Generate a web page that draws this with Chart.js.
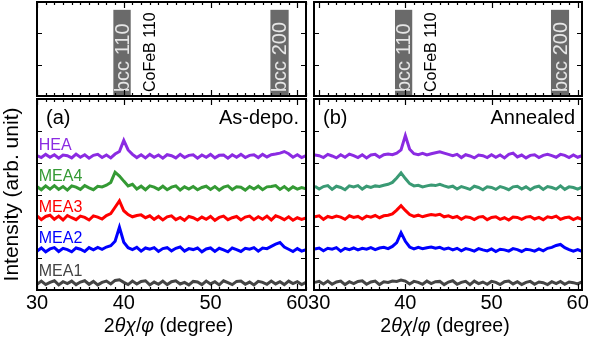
<!DOCTYPE html>
<html>
<head>
<meta charset="utf-8">
<script src="https://cdn.jsdelivr.net/npm/chart.js@4.4.0/dist/chart.umd.min.js"></script>
<style>
  html, body { margin: 0; padding: 0; background: #fff; }
  #wrap { position: relative; width: 596px; height: 340px; }
  #wrap canvas { position: absolute; left: 0; top: 0; }
</style>
</head>
<body>
<div id="wrap">
  <canvas id="topA" width="596" height="340"></canvas>
  <canvas id="topB" width="596" height="340"></canvas>
  <canvas id="mainA" width="596" height="340"></canvas>
  <canvas id="mainB" width="596" height="340"></canvas>
</div>
<script>
// ---- data (2theta in degree, intensity in arb. unit above each baseline) ----
const TWO_THETA = [29.5, 30, 30.5, 31, 31.5, 32, 32.5, 33, 33.5, 34,
  34.5, 35, 35.5, 36, 36.5, 37, 37.5, 38, 38.5, 39,
  39.5, 40, 40.5, 41, 41.5, 42, 42.5, 43, 43.5, 44,
  44.5, 45, 45.5, 46, 46.5, 47, 47.5, 48, 48.5, 49,
  49.5, 50, 50.5, 51, 51.5, 52, 52.5, 53, 53.5, 54,
  54.5, 55, 55.5, 56, 56.5, 57, 57.5, 58, 58.5, 59,
  59.5, 60, 60.5, 61];

const SAMPLES = ['MEA1', 'MEA2', 'MEA3', 'MEA4', 'HEA'];
const OFFSETS = [0.22, 1.25, 2.25, 3.2, 4.2];

// as-deposited
const MEA1_ASDEPO = [0.03, -0.04, 0.06, -0.05, 0.02, 0.07, -0.06, 0.04, -0.02, 0.06,
  -0.05, 0.03, 0.07, -0.04, 0.05, -0.06, 0.02, 0.06, -0.03, 0.08,
  0.1, 0.02, -0.05, 0.06, -0.03, 0.05, 0.07, -0.06, 0.03, -0.04,
  0.06, -0.05, 0.04, 0.07, -0.03, 0.02, -0.06, 0.05, 0.03, -0.05,
  0.06, -0.03, 0.04, -0.06, 0.07, 0.01, -0.05, 0.05, 0.06, -0.04,
  0.03, -0.06, 0.05, 0.02, -0.04, 0.06, -0.03, 0.04, -0.05, 0.06,
  -0.02, 0.04, -0.05, 0.02];
const MEA2_ASDEPO = [0.05, -0.03, 0.07, -0.05, 0.04, 0.08, -0.04, 0.06, 0.02, -0.05,
  0.07, 0.03, -0.04, 0.08, 0.01, 0.09, 0.03, 0.1, 0.14, 0.28,
  0.72, 0.25, 0.08, 0.02, 0.09, -0.03, 0.07, 0.03, 0.08, -0.04,
  0.05, 0.08, -0.02, 0.06, 0.1, -0.03, 0.05, 0.02, 0.07, -0.05,
  0.04, 0.07, -0.04, 0.06, 0.01, -0.05, 0.07, 0.02, -0.04, 0.06,
  0.03, 0.08, -0.03, 0.07, 0.05, 0.12, 0.19, 0.24, 0.1, 0.03,
  -0.04, 0.05, -0.03, 0.02];
const MEA3_ASDEPO = [0.04, 0.08, -0.04, 0.06, 0.1, -0.03, 0.07, -0.05, 0.09, 0.02,
  -0.04, 0.07, 0.03, -0.05, 0.08, 0.04, -0.02, 0.09, 0.15, 0.35,
  0.55, 0.24, 0.12, 0.05, 0.09, 0.11, 0.02, 0.08, -0.03, 0.06,
  -0.05, 0.05, 0.08, -0.04, 0.03, -0.06, 0.06, 0.02, -0.05, 0.04,
  -0.03, 0.06, -0.06, 0.03, 0.07, -0.04, 0.02, 0.06, -0.05, 0.04,
  0.07, -0.04, 0.05, -0.03, 0.07, -0.05, 0.08, 0.03, -0.04, 0.05,
  -0.06, 0.02, -0.03, 0.01];
const MEA4_ASDEPO = [0.02, 0.05, -0.05, 0.07, -0.03, 0.08, -0.04, 0.05, -0.06, 0.07,
  0.03, -0.04, 0.08, 0.01, -0.05, 0.06, 0.04, 0.09, 0.18, 0.5,
  0.38, 0.22, 0.07, 0.12, -0.03, 0.06, -0.05, 0.07, 0.03, -0.04,
  0.06, -0.05, 0.03, 0.07, -0.06, 0.04, -0.03, 0.05, -0.05, 0.02,
  0.06, -0.04, 0.05, -0.06, 0.03, 0.07, -0.05, 0.04, 0.03, -0.06,
  0.05, -0.03, 0.06, -0.05, 0.04, 0.05, 0.08, -0.04, 0.05, -0.06,
  0.04, -0.03, 0.02, -0.02];
const HEA_ASDEPO = [0.04, 0.02, -0.04, 0.06, -0.03, 0.05, -0.06, 0.04, 0.02, -0.05,
  0.07, -0.03, 0.05, -0.06, 0.03, 0.06, -0.04, 0.04, -0.05, 0.07,
  0.15, 0.5, 0.2, 0.06, -0.04, 0.05, -0.05, 0.06, -0.03, 0.04,
  -0.06, 0.05, 0.02, -0.05, 0.06, -0.04, 0.03, 0.05, -0.06, 0.04,
  -0.03, 0.06, -0.05, 0.03, 0.04, -0.06, 0.05, -0.03, 0.06, -0.04,
  0.03, 0.05, -0.04, 0.06, -0.02, 0.05, 0.07, 0.1, 0.15, 0.08,
  -0.03, 0.05, -0.04, 0.02];

// annealed
const MEA1_ANNEALED = [0.02, 0.05, -0.03, 0.06, -0.04, 0.03, 0.06, -0.05, 0.04, -0.02,
  0.05, 0.07, -0.04, 0.03, 0.06, -0.05, 0.04, 0.02, 0.06, 0.05,
  0.09, 0.06, -0.03, 0.05, 0.02, -0.04, 0.06, -0.02, 0.04, 0.05,
  -0.05, 0.03, 0.07, -0.04, 0.02, 0.05, -0.05, 0.06, -0.02, 0.03,
  -0.04, 0.05, 0.02, -0.05, 0.04, 0.06, -0.03, 0.04, -0.05, 0.02,
  0.05, -0.04, 0.03, 0.01, -0.05, 0.04, -0.02, 0.05, -0.04, 0.03,
  0.01, -0.03, 0.04, -0.02];
const MEA2_ANNEALED = [0.04, 0.07, -0.02, 0.06, 0.03, 0.08, -0.03, 0.06, 0.02, 0.07,
  0.01, 0.06, 0.03, 0.08, 0.02, 0.07, 0.09, 0.05, 0.12, 0.24,
  0.55, 0.28, 0.1, 0.04, 0.09, 0.05, 0.08, 0.1, 0.06, 0.09,
  0.03, 0.07, 0.01, 0.06, -0.02, 0.05, 0.02, -0.03, 0.05, 0.01,
  -0.02, 0.04, -0.04, 0.03, 0.01, -0.03, 0.05, 0.02, -0.04, 0.03,
  0.01, -0.03, 0.04, -0.02, 0.06, 0.09, 0.15, 0.18, 0.08, 0.02,
  -0.03, 0.02, -0.04, 0.0];
const MEA3_ANNEALED = [0.05, 0.08, -0.03, 0.06, 0.02, 0.07, 0.04, -0.03, 0.08, 0.03,
  0.06, -0.02, 0.07, 0.04, 0.09, 0.02, 0.08, 0.1, 0.14, 0.26,
  0.4, 0.25, 0.12, 0.06, 0.1, 0.05, 0.09, 0.12, 0.1, 0.13,
  0.05, 0.08, 0.02, 0.06, -0.03, 0.05, 0.03, -0.04, 0.04, 0.06,
  -0.04, 0.03, 0.05, -0.03, 0.02, -0.05, 0.04, 0.03, -0.03, 0.04,
  0.06, -0.02, 0.03, -0.04, 0.05, 0.02, 0.07, -0.03, 0.02, 0.04,
  -0.04, 0.02, -0.03, 0.01];
const MEA4_ANNEALED = [0.06, -0.03, 0.05, 0.08, -0.04, 0.06, 0.02, -0.05, 0.07, 0.04,
  0.08, -0.03, 0.06, 0.02, 0.07, 0.05, 0.09, 0.12, 0.18, 0.32,
  0.48, 0.3, 0.14, 0.07, 0.09, 0.04, 0.07, 0.1, 0.08, 0.12,
  0.07, 0.03, 0.06, -0.03, 0.05, 0.01, -0.04, 0.06, 0.02, -0.05,
  0.04, 0.02, -0.04, 0.05, 0.01, -0.05, 0.04, 0.06, -0.03, 0.04,
  -0.05, 0.03, 0.06, -0.04, 0.05, 0.02, -0.03, 0.07, -0.04, 0.04,
  0.02, -0.03, 0.03, -0.02];
const HEA_ANNEALED = [0.04, 0.02, -0.04, 0.06, 0.01, -0.05, 0.05, -0.03, 0.07, 0.02,
  -0.04, 0.05, -0.05, 0.04, 0.06, -0.03, 0.05, 0.07, 0.05, 0.1,
  0.2, 0.65, 0.22, 0.08, 0.05, 0.09, 0.04, 0.08, 0.11, 0.14,
  0.1, 0.06, 0.02, 0.06, -0.04, 0.05, 0.01, -0.05, 0.04, 0.02,
  -0.04, 0.05, -0.03, 0.04, -0.05, 0.06, 0.1, -0.02, 0.04, -0.05,
  0.03, 0.05, -0.04, 0.03, 0.06, 0.02, -0.03, 0.06, 0.03, -0.04,
  0.04, -0.03, 0.02, -0.02];

const ASDEPO = [MEA1_ASDEPO, MEA2_ASDEPO, MEA3_ASDEPO, MEA4_ASDEPO, HEA_ASDEPO];
const ANNEALED = [MEA1_ANNEALED, MEA2_ANNEALED, MEA3_ANNEALED, MEA4_ANNEALED, HEA_ANNEALED];

// reference peak positions (top panels)
const REF_LABELS = ['bcc 110', 'bcc 200'];
const REF_FROM = [38.8, 56.9];
const REF_TO = [40.8, 59.0];
const COFEB_LABEL = 'CoFeB 110';
const COFEB_POS = 43.1;

const X_RANGE_A = [30, 61];
const X_RANGE_B = [29.4, 60.5];
const X_TICKS = [30, 40, 50, 60];
const Y_TICKS_MAIN = [1, 2, 3, 4, 5];
const Y_TICKS_TOP = [1, 2];

const COLORS_A = ['#444444', '#0000ff', '#ff0000', '#349a34', '#8b2be2'];
const COLORS_B = ['#444444', '#0000ff', '#ff0000', '#3a9a74', '#8b2be2'];

const FONT = '"Liberation Sans", Arial, Helvetica, sans-serif';

// ---- plugins ----
function frameTicks(yTicks) {
  return {
    id: 'frameTicks',
    afterDatasetsDraw(chart) {
      const { ctx, chartArea: a, scales: { x, y } } = chart;
      ctx.save();
      ctx.strokeStyle = '#000';
      ctx.lineWidth = 1.2;
      ctx.beginPath();
      for (let v = Math.ceil(x.min); v <= Math.floor(x.max); v += 1) {
        const px = Math.round(x.getPixelForValue(v)) + 0.5;
        const len = X_TICKS.includes(v) ? 6 : 3;
        ctx.moveTo(px, a.top); ctx.lineTo(px, a.top + len);
        ctx.moveTo(px, a.bottom); ctx.lineTo(px, a.bottom - len);
      }
      yTicks.forEach(v => {
        const py = Math.round(y.getPixelForValue(v)) + 0.5;
        ctx.moveTo(a.left, py); ctx.lineTo(a.left + 5, py);
        ctx.moveTo(a.right, py); ctx.lineTo(a.right - 5, py);
      });
      ctx.stroke();
      ctx.lineWidth = 2;
      ctx.strokeRect(a.left, a.top, a.right - a.left, a.bottom - a.top);
      ctx.restore();
    }
  };
}

const refBands = {
  id: 'refBands',
  beforeDatasetsDraw(chart) {
    const { ctx, chartArea: a, scales: { x, y } } = chart;
    ctx.save();
    REF_LABELS.forEach((lab, i) => {
      const x0 = x.getPixelForValue(REF_FROM[i]);
      const x1 = x.getPixelForValue(REF_TO[i]);
      const top = y.getPixelForValue(2.75);
      ctx.fillStyle = '#6a6a6a';
      ctx.fillRect(x0, top, x1 - x0, a.bottom - top);
      ctx.save();
      ctx.translate((x0 + x1) / 2 + 1, a.bottom - 4);
      ctx.rotate(-Math.PI / 2);
      ctx.fillStyle = '#e6e6e6';
      ctx.font = '20px ' + FONT;
      ctx.textAlign = 'left';
      ctx.textBaseline = 'middle';
      ctx.fillText(lab, 0, 0);
      ctx.restore();
    });
    ctx.save();
    ctx.translate(x.getPixelForValue(COFEB_POS), a.bottom - 4);
    ctx.rotate(-Math.PI / 2);
    ctx.fillStyle = '#000';
    ctx.font = '16px ' + FONT;
    ctx.textAlign = 'left';
    ctx.textBaseline = 'middle';
    ctx.fillText(COFEB_LABEL, 0, 0);
    ctx.restore();
    ctx.restore();
  }
};

function panelText(letter, cond, colors, withNames) {
  return {
    id: 'panelText',
    beforeDatasetsDraw(chart) {
      const { ctx, scales: { x, y } } = chart;
      ctx.save();
      ctx.textBaseline = 'middle';
      if (withNames) {
        ctx.font = '16px ' + FONT;
        ctx.textAlign = 'left';
        SAMPLES.forEach((s, i) => {
          ctx.fillStyle = colors[i];
          ctx.fillText(s, x.getPixelForValue(30.2), y.getPixelForValue(OFFSETS[i] + 0.35));
        });
      }
      ctx.restore();
    },
    afterDraw(chart) {
      const { ctx, chartArea: a } = chart;
      ctx.save();
      ctx.fillStyle = '#000';
      ctx.textBaseline = 'middle';
      ctx.font = '20px ' + FONT;
      ctx.textAlign = 'left';
      ctx.fillText(letter, a.left + 9, a.top + 19);
      ctx.textAlign = 'right';
      ctx.fillText(cond, a.right - 7, a.top + 19);
      // x axis title with italic symbols
      const parts = [['2', false], ['θχ', true], ['/', false], ['φ', true], [' (degree)', false]];
      const fnt = it => (it ? 'italic ' : '') + '19.5px ' + FONT;
      let w = 0;
      parts.forEach(p => { ctx.font = fnt(p[1]); w += ctx.measureText(p[0]).width; });
      let px = (a.left + a.right) / 2 - w / 2 - 3;
      ctx.textAlign = 'left';
      parts.forEach(p => {
        ctx.font = fnt(p[1]);
        ctx.fillText(p[0], px, 327);
        px += ctx.measureText(p[0]).width;
      });
      ctx.restore();
    }
  };
}

// ---- charts ----
function topChart(id, left, right, xRange) {
  return new Chart(document.getElementById(id), {
    type: 'line',
    data: { datasets: [] },
    options: {
      responsive: false,
      animation: false,
      events: [],
      layout: { padding: { left: left, right: 596 - right, top: 2, bottom: 340 - 96 } },
      plugins: { legend: { display: false }, tooltip: { enabled: false } },
      scales: {
        x: { type: 'linear', min: xRange[0], max: xRange[1], display: false },
        y: { type: 'linear', min: 0, max: 3, display: false }
      }
    },
    plugins: [refBands, frameTicks(Y_TICKS_TOP)]
  });
}

function mainChart(id, left, right, xRange, series, colors, letter, cond, first) {
  const datasets = series.map((vals, i) => ({
    label: SAMPLES[i],
    data: TWO_THETA.map((t, k) => ({ x: t, y: vals[k] + OFFSETS[i] })),
    borderColor: colors[i],
    borderWidth: 3,
    pointRadius: 0,
    tension: 0,
    fill: false
  }));
  return new Chart(document.getElementById(id), {
    type: 'line',
    data: { datasets: datasets },
    options: {
      responsive: false,
      animation: false,
      events: [],
      layout: { padding: { left: first ? 0 : left, right: 596 - right, top: 99, bottom: 0 } },
      plugins: { legend: { display: false }, tooltip: { enabled: false } },
      scales: {
        x: {
          type: 'linear', min: xRange[0], max: xRange[1],
          grid: { display: false, drawTicks: false },
          border: { display: false },
          ticks: { color: '#000', padding: 1, font: { family: FONT, size: 20 } },
          afterBuildTicks: s => { s.ticks = X_TICKS.map(v => ({ value: v })); },
          afterFit: s => { s.height = 50; }
        },
        y: {
          type: 'linear', min: 0, max: 6,
          display: first,
          grid: { display: false, drawTicks: false },
          border: { display: false },
          ticks: { display: false },
          title: {
            display: true, text: 'Intensity (arb. unit)', color: '#000',
            font: { family: FONT, size: 21 }, padding: { top: 0, bottom: 0 }
          },
          afterFit: s => { s.width = first ? left : 0; }
        }
      }
    },
    plugins: [panelText(letter, cond, colors, first), frameTicks(Y_TICKS_MAIN)]
  });
}

topChart('topA', 37, 306, X_RANGE_A);
topChart('topB', 314, 582, X_RANGE_B);
mainChart('mainA', 37, 306, X_RANGE_A, ASDEPO, COLORS_A, '(a)', 'As-depo.', true);
mainChart('mainB', 314, 582, X_RANGE_B, ANNEALED, COLORS_B, '(b)', 'Annealed', false);
</script>
</body>
</html>
